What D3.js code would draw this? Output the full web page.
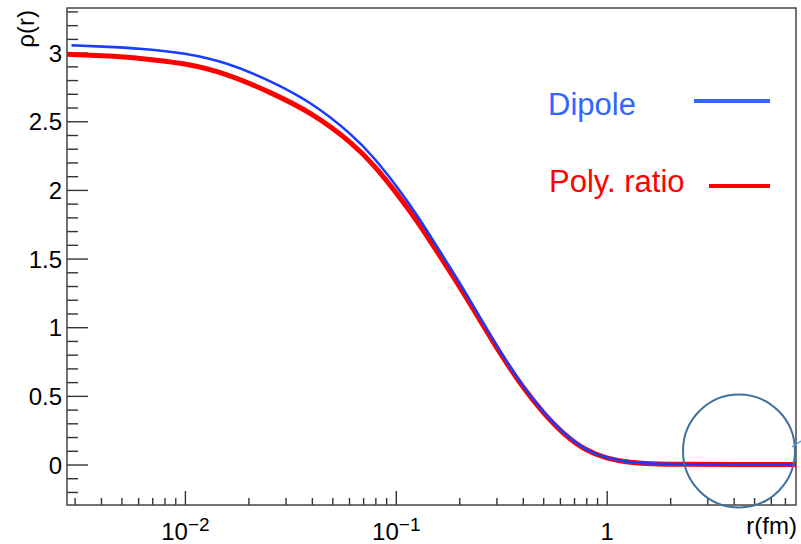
<!DOCTYPE html>
<html lang="en">
<head>
<meta charset="utf-8">
<title>rho(r): dipole vs poly. ratio</title>
<script src="https://d3js.org/d3.v7.min.js"></script>
<style>
    body { margin: 0; background: #fff; }
    svg text { font-family: "Liberation Sans", Arial, sans-serif; }
</style>
</head>
<body>
<script>
// r in fm
var dipoleR   = [0.0029, 0.004, 0.0063, 0.01, 0.0158, 0.0251, 0.0398, 0.0631, 0.0794, 0.1, 0.126, 0.158, 0.2, 0.251, 0.316, 0.398, 0.501, 0.631, 0.794, 1, 1.26, 1.58, 2.51, 3.98, 7.9];
var dipoleRho = [3.053, 3.045, 3.029, 2.998, 2.928, 2.80, 2.64, 2.395, 2.23, 2.035, 1.82, 1.578, 1.329, 1.07, 0.81, 0.575, 0.38, 0.22, 0.105, 0.045, 0.017, 0.006, 0.001, 0, 0];

var polyR   = [0.00276, 0.004, 0.0063, 0.01, 0.0158, 0.0251, 0.0398, 0.0631, 0.0794, 0.1, 0.126, 0.158, 0.2, 0.251, 0.316, 0.398, 0.501, 0.631, 0.794, 1, 1.26, 1.58, 2.51, 3.98, 7.9];
var polyRho = [2.988, 2.978, 2.959, 2.923, 2.848, 2.715, 2.565, 2.335, 2.175, 1.985, 1.778, 1.543, 1.301, 1.05, 0.795, 0.565, 0.372, 0.214, 0.102, 0.043, 0.016, 0.005, 0.001, 0, 0];

var xMajor = [0.01, 0.1, 1];
var xMajorLabels = [["10", "\u22122"], ["10", "\u22121"], ["1", ""]];
var yMajor = [0, 0.5, 1, 1.5, 2, 2.5, 3];
var yMajorLabels = ["0", "0.5", "1", "1.5", "2", "2.5", "3"];

var legendNames = ["Dipole", "Poly. ratio"];

var W = 801, H = 544;
var padL = 67, padR = 796, padT = 8, padB = 505;

var x = d3.scaleLog().domain([0.00276, 7.9]).range([padL, padR]);
var y = d3.scaleLinear().domain([-0.295, 3.325]).range([padB, padT]);

var svg = d3.select("body").append("svg")
    .attr("width", W)
    .attr("height", H);

svg.append("defs").append("clipPath").attr("id", "plotclip")
    .append("rect")
    .attr("x", padL).attr("y", padT)
    .attr("width", padR - padL).attr("height", padB - padT);

// minor x ticks: 2..9 in each decade
var xMinor = [];
[-3, -2, -1, 0].forEach(function(e) {
    for (var k = 2; k <= 9; k++) {
        var v = k * Math.pow(10, e);
        if (v > x.domain()[0] && v < x.domain()[1]) xMinor.push(v);
    }
});
var yMinor = d3.range(-2, 34).map(function(i) { return i / 10; })
    .filter(function(v) { return Math.abs(v * 2 - Math.round(v * 2)) > 1e-6; });

var gxMinor = svg.append("g")
    .attr("transform", "translate(0," + padB + ")")
    .call(d3.axisBottom(x).tickValues(xMinor).tickSize(-7).tickSizeOuter(0).tickFormat(""));
var gx = svg.append("g")
    .attr("transform", "translate(0," + padB + ")")
    .call(d3.axisBottom(x).tickValues(xMajor).tickSize(-14).tickSizeOuter(0).tickPadding(18).tickFormat(""));

var gyMinor = svg.append("g")
    .attr("transform", "translate(" + padL + ",0)")
    .call(d3.axisLeft(y).tickValues(yMinor).tickSize(-11).tickSizeOuter(0).tickFormat(""));
var gy = svg.append("g")
    .attr("transform", "translate(" + padL + ",0)")
    .call(d3.axisLeft(y).tickValues(yMajor).tickSize(-21).tickSizeOuter(0).tickPadding(5)
        .tickFormat(function(d, i) { return yMajorLabels[i]; }));

[gxMinor, gx, gyMinor, gy].forEach(function(g) {
    g.select(".domain").remove();
    g.selectAll(".tick line").attr("stroke", "#333").attr("stroke-width", 1.4);
});

gy.selectAll(".tick text")
    .attr("font-size", 24)
    .attr("fill", "#000")
    .attr("dy", "0.36em");

// x labels with superscript exponents
gx.selectAll(".tick text").each(function(d, i) {
    var t = d3.select(this).text(null)
        .attr("font-size", 24)
        .attr("fill", "#000");
    t.append("tspan").text(xMajorLabels[i][0]);
    if (xMajorLabels[i][1]) {
        t.append("tspan")
            .attr("font-size", 19)
            .attr("dy", "-0.45em")
            .text(xMajorLabels[i][1]);
    }
});

// frame
svg.append("rect")
    .attr("x", padL).attr("y", padT)
    .attr("width", padR - padL).attr("height", padB - padT)
    .attr("fill", "none")
    .attr("stroke", "#444")
    .attr("stroke-width", 1.5);

var line = d3.line()
    .x(function(d) { return x(d[0]); })
    .y(function(d) { return y(d[1]); })
    .curve(d3.curveBasis);

var plot = svg.append("g").attr("clip-path", "url(#plotclip)");

plot.append("path")
    .datum(d3.zip(polyR, polyRho))
    .attr("d", line)
    .attr("fill", "none")
    .attr("stroke", "#ff0000")
    .attr("stroke-width", 5);

plot.append("path")
    .datum(d3.zip(dipoleR, dipoleRho))
    .attr("d", line)
    .attr("fill", "none")
    .attr("stroke", "#1a3cff")
    .attr("stroke-width", 2.6);

// legend
svg.append("text")
    .attr("x", 548).attr("y", 115)
    .attr("font-size", 31)
    .attr("fill", "#3366ff")
    .text(legendNames[0]);
svg.append("line")
    .attr("x1", 694).attr("x2", 770).attr("y1", 101).attr("y2", 101)
    .attr("stroke", "#3366ff").attr("stroke-width", 4);

svg.append("text")
    .attr("x", 549).attr("y", 192)
    .attr("font-size", 31)
    .attr("fill", "#ff0000")
    .text(legendNames[1]);
svg.append("line")
    .attr("x1", 709).attr("x2", 770).attr("y1", 186).attr("y2", 186)
    .attr("stroke", "#ff0000").attr("stroke-width", 4);

// axis titles
svg.append("text")
    .attr("x", W - 4).attr("y", 534)
    .attr("text-anchor", "end")
    .attr("font-size", 24)
    .text("r(fm)");

svg.append("text")
    .attr("transform", "translate(34,10) rotate(-90)")
    .attr("text-anchor", "end")
    .attr("font-size", 24)
    .text("\u03c1(r)");

// hand-drawn highlight circle
svg.append("ellipse")
    .attr("cx", 739).attr("cy", 451)
    .attr("rx", 56).attr("ry", 56.5)
    .attr("fill", "none")
    .attr("stroke", "#41719c")
    .attr("stroke-width", 2);
svg.append("line")
    .attr("x1", 792).attr("y1", 447).attr("x2", 801).attr("y2", 441)
    .attr("stroke", "#5b9bd5").attr("stroke-width", 1.5);
</script>
</body>
</html>
